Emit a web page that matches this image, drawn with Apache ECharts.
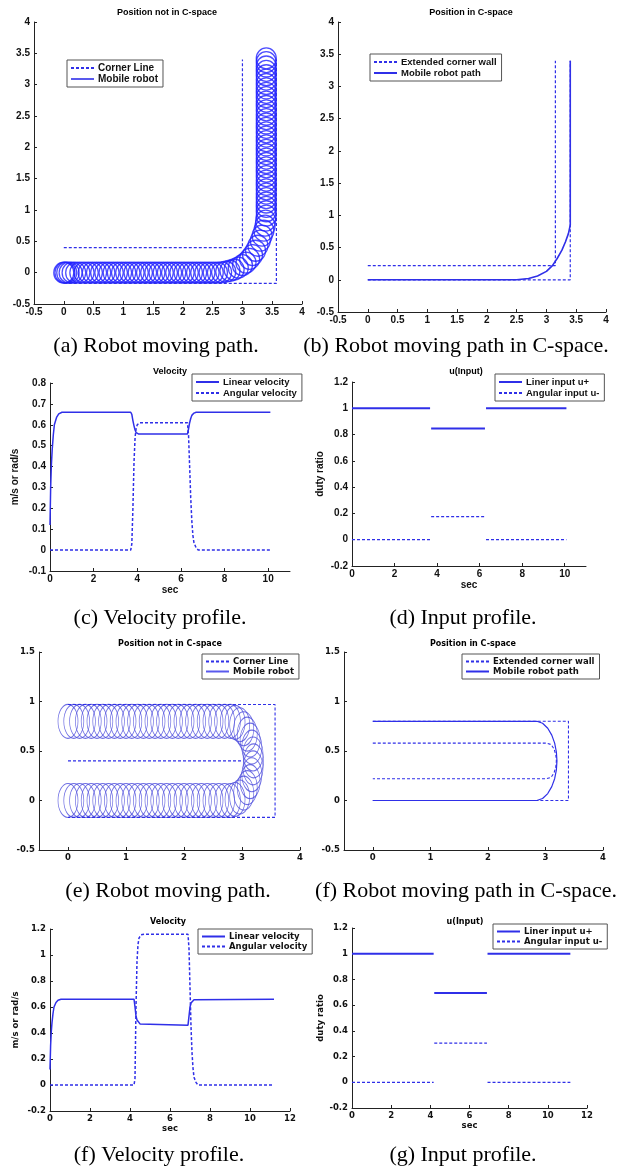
<!DOCTYPE html>
<html>
<head>
<meta charset="utf-8">
<script src="https://cdn.jsdelivr.net/npm/echarts@6/dist/echarts.min.js"></script>
<style>
html, body { margin: 0; padding: 0; background: #fff; }
#chart { width: 622px; height: 1171px; }
</style>
</head>
<body>
<div id="chart"></div>
<script>
/* ===== (a) corner, position not in C-space ===== */
const aInnerX = [0, 3, 3]
const aInnerY = [0.4, 0.4, 3.4]
const aOuterX = [0, 3.57, 3.57]
const aOuterY = [-0.17, -0.17, 3.4]
// robot body circles (centres)
const aRobot = [
    [0, 0], [0.02, 0], [0.05, 0], [0.09, 0], [0.14, 0], [0.2, 0], [0.27, 0], [0.34, 0], [0.41, 0], [0.48, 0],
    [0.55, 0], [0.62, 0], [0.69, 0], [0.76, 0], [0.83, 0], [0.9, 0], [0.97, 0], [1.04, 0], [1.11, 0], [1.18, 0],
    [1.25, 0], [1.32, 0], [1.39, 0], [1.46, 0], [1.53, 0], [1.6, 0], [1.67, 0], [1.74, 0], [1.81, 0], [1.88, 0],
    [1.95, 0], [2.02, 0], [2.09, 0], [2.16, 0], [2.23, 0], [2.3, 0], [2.37, 0], [2.44, 0], [2.51, 0], [2.58, 0],
    [2.65, 0.005], [2.72, 0.015], [2.79, 0.03], [2.86, 0.05], [2.93, 0.08], [3.0, 0.12], [3.06, 0.16], [3.12, 0.22],
    [3.17, 0.28], [3.22, 0.35], [3.26, 0.43], [3.3, 0.51], [3.33, 0.59], [3.36, 0.67], [3.38, 0.75], [3.39, 0.83],
    [3.4, 0.91], [3.4, 0.98], [3.4, 1.05], [3.4, 1.12], [3.4, 1.19], [3.4, 1.26], [3.4, 1.33], [3.4, 1.4],
    [3.4, 1.47], [3.4, 1.54], [3.4, 1.61], [3.4, 1.68], [3.4, 1.75], [3.4, 1.82], [3.4, 1.89], [3.4, 1.96],
    [3.4, 2.03], [3.4, 2.1], [3.4, 2.17], [3.4, 2.24], [3.4, 2.31], [3.4, 2.38], [3.4, 2.45], [3.4, 2.52],
    [3.4, 2.59], [3.4, 2.66], [3.4, 2.73], [3.4, 2.8], [3.4, 2.87], [3.4, 2.94], [3.4, 3.01], [3.4, 3.08],
    [3.4, 3.15], [3.4, 3.22], [3.4, 3.29], [3.4, 3.36], [3.4, 3.42]
]

/* ===== (b) corner, C-space ===== */
const bInnerX = [0, 3.15, 3.15]
const bInnerY = [0.22, 0.22, 3.4]
const bOuterX = [0, 3.4, 3.4]
const bOuterY = [0, 0, 3.4]
const bPathX = [0, 2.5, 2.7, 2.85, 3.0, 3.1, 3.18, 3.26, 3.32, 3.37, 3.4, 3.4]
const bPathY = [0, 0, 0.02, 0.06, 0.13, 0.22, 0.33, 0.46, 0.59, 0.72, 0.85, 3.4]

/* ===== (c) velocity, corner ===== */
const cLinT = [0, 0.03, 0.06, 0.1, 0.15, 0.2, 0.3, 0.4, 0.55, 3.7, 3.75, 3.8, 3.85, 3.9, 3.95, 4.05, 6.3, 6.35, 6.4, 6.45, 6.5, 6.6, 6.7, 10.1]
const cLinV = [0.12, 0.3, 0.4, 0.48, 0.55, 0.6, 0.635, 0.652, 0.66, 0.66, 0.65, 0.62, 0.595, 0.575, 0.562, 0.556, 0.556, 0.58, 0.61, 0.63, 0.645, 0.656, 0.66, 0.66]
const cAngT = [0, 3.7, 3.75, 3.8, 3.85, 3.9, 3.95, 4.0, 4.1, 6.3, 6.35, 6.4, 6.45, 6.5, 6.55, 6.6, 6.7, 6.8, 10.1]
const cAngV = [0, 0, 0.03, 0.2, 0.42, 0.54, 0.585, 0.6, 0.61, 0.61, 0.55, 0.4, 0.25, 0.14, 0.07, 0.035, 0.01, 0, 0]

/* ===== (d) input, corner (step segments) ===== */
const dStart = [0, 3.72, 6.3]
const dEnd = [3.67, 6.25, 10.08]
const dLin = [1, 0.846, 1]
const dAng = [0, 0.175, 0]

/* ===== (e) U-turn, position not in C-space ===== */
const eOuter = [[0, 0.97], [3.57, 0.97], [3.57, -0.17], [0, -0.17]]
const eMid = [[0, 0.4], [3.0, 0.4]]
const eRobot = [
    [0, 0], [0.1, 0], [0.2, 0], [0.3, 0], [0.4, 0], [0.5, 0], [0.6, 0], [0.7, 0], [0.8, 0], [0.9, 0],
    [1.0, 0], [1.1, 0], [1.2, 0], [1.3, 0], [1.4, 0], [1.5, 0], [1.6, 0], [1.7, 0], [1.8, 0], [1.9, 0],
    [2.0, 0], [2.1, 0], [2.2, 0], [2.3, 0], [2.4, 0], [2.5, 0], [2.6, 0], [2.7, 0], [2.8, 0],
    [2.88, 0.01], [2.96, 0.035], [3.03, 0.075], [3.09, 0.13], [3.14, 0.19], [3.17, 0.26], [3.19, 0.33],
    [3.2, 0.4], [3.19, 0.47], [3.17, 0.54], [3.14, 0.61], [3.09, 0.67], [3.03, 0.725], [2.96, 0.765], [2.88, 0.79],
    [2.8, 0.8], [2.7, 0.8], [2.6, 0.8], [2.5, 0.8], [2.4, 0.8], [2.3, 0.8], [2.2, 0.8], [2.1, 0.8], [2.0, 0.8],
    [1.9, 0.8], [1.8, 0.8], [1.7, 0.8], [1.6, 0.8], [1.5, 0.8], [1.4, 0.8], [1.3, 0.8], [1.2, 0.8], [1.1, 0.8],
    [1.0, 0.8], [0.9, 0.8], [0.8, 0.8], [0.7, 0.8], [0.6, 0.8], [0.5, 0.8], [0.4, 0.8], [0.3, 0.8], [0.2, 0.8],
    [0.1, 0.8], [0, 0.8]
]

/* ===== (f) U-turn, C-space ===== */
const fOuter = [[0, 0.8], [3.4, 0.8], [3.4, 0], [0, 0]]
const fInner = [[0, 0.58], [3.02, 0.58], [3.1, 0.565], [3.15, 0.52], [3.18, 0.46], [3.19, 0.4], [3.18, 0.34], [3.15, 0.28], [3.1, 0.235], [3.02, 0.22], [0, 0.22]]
const fPath = [[0, 0], [2.85, 0], [2.95, 0.02], [3.04, 0.07], [3.11, 0.14], [3.16, 0.22], [3.19, 0.31], [3.2, 0.4], [3.19, 0.49], [3.16, 0.58], [3.11, 0.66], [3.04, 0.73], [2.95, 0.78], [2.85, 0.8], [0, 0.8]]

/* ===== (g) velocity, U-turn ===== */
const gLinT = [0, 0.03, 0.06, 0.1, 0.15, 0.2, 0.3, 0.4, 0.55, 4.2, 4.25, 4.3, 4.35, 4.4, 4.5, 4.6, 6.9, 6.95, 7.0, 7.05, 7.1, 7.2, 7.3, 11.2]
const gLinV = [0.12, 0.3, 0.4, 0.48, 0.55, 0.6, 0.635, 0.652, 0.66, 0.66, 0.6, 0.53, 0.5, 0.485, 0.47, 0.462, 0.46, 0.53, 0.6, 0.63, 0.645, 0.655, 0.66, 0.66]
const gAngT = [0, 4.2, 4.25, 4.3, 4.35, 4.4, 4.45, 4.55, 4.7, 6.9, 6.95, 7.0, 7.05, 7.1, 7.15, 7.2, 7.3, 7.4, 11.2]
const gAngV = [0, 0, 0.05, 0.6, 0.95, 1.08, 1.13, 1.155, 1.16, 1.16, 1.05, 0.75, 0.45, 0.25, 0.13, 0.06, 0.02, 0, 0]

/* ===== (h) input, U-turn ===== */
const hStart = [0, 4.2, 6.92]
const hEnd = [4.17, 6.89, 11.15]
const hLin = [1, 0.695, 1]
const hAng = [0, 0.305, 0]

/* ===== tick labels ===== */
const tickPos = [-0.5, 0, 0.5, 1, 1.5, 2, 2.5, 3, 3.5, 4]
const tickTime11 = [0, 2, 4, 6, 8, 10]
const tickUturnX = [0, 1, 2, 3, 4]

/* ===== helpers ===== */
const BLUE = '#2f2fe8'
const BLUE_L = '#4b4bdc'
const SANS = "'Liberation Sans', Arial, sans-serif"
const DEJA = "'DejaVu Sans', sans-serif"
const SERIF = "'Liberation Serif', 'Times New Roman', serif"
const DASH_ICON = 'path://M0,0h3v2h-3zM5,0h3v2h-3zM10,0h3v2h-3zM15,0h3v2h-3zM20,0h3v2h-3z'
const LINE_ICON = 'path://M0,0h23v2h-23z'

const zip = (xs, ys) => xs.map((x, i) => [x, ys[i]])

const grids = [
    { left: 34, top: 22, width: 268, height: 282 },   // a
    { left: 338, top: 22, width: 268, height: 290 },  // b
    { left: 50, top: 383, width: 240, height: 188 },  // c
    { left: 352, top: 382, width: 234, height: 184 }, // d
    { left: 39, top: 652, width: 261, height: 198 },  // e
    { left: 344, top: 652, width: 259, height: 198 }, // f
    { left: 50, top: 929, width: 240, height: 182 },  // g
    { left: 352, top: 928, width: 235, height: 180 }  // h
]

const axis = (gi, dim, o) => ({
    gridIndex: gi,
    type: 'value',
    min: o.min, max: o.max, interval: o.interval,
    axisLine: { show: true, onZero: false, lineStyle: { color: '#222', width: 1 } },
    axisTick: { show: true, inside: true, length: 3, lineStyle: { color: '#222' }, customValues: o.ticks },
    axisLabel: {
        margin: dim === 'x' ? 3 : 4, color: '#111', fontSize: o.fs, fontWeight: 'bold', fontFamily: o.ff,
        customValues: o.ticks
    },
    splitLine: { show: false },
    name: o.name || '',
    nameLocation: 'middle',
    nameGap: o.gap || 0,
    nameRotate: dim === 'y' ? 90 : 0,
    nameTextStyle: { color: '#111', fontSize: o.fs, fontWeight: 'bold', fontFamily: o.ff }
})

const xAxes = [
    axis(0, 'x', { min: -0.5, max: 4, interval: 0.5, fs: 10, ff: SANS }),
    axis(1, 'x', { min: -0.5, max: 4, interval: 0.5, fs: 10, ff: SANS }),
    axis(2, 'x', { min: 0, max: 11, ticks: tickTime11, fs: 10, ff: SANS, name: 'sec', gap: 13 }),
    axis(3, 'x', { min: 0, max: 11, ticks: tickTime11, fs: 10, ff: SANS, name: 'sec', gap: 14 }),
    axis(4, 'x', { min: -0.5, max: 4, ticks: tickUturnX, fs: 8.5, ff: DEJA }),
    axis(5, 'x', { min: -0.5, max: 4, ticks: tickUturnX, fs: 8.5, ff: DEJA }),
    axis(6, 'x', { min: 0, max: 12, interval: 2, fs: 8.5, ff: DEJA, name: 'sec', gap: 13 }),
    axis(7, 'x', { min: 0, max: 12, interval: 2, fs: 8.5, ff: DEJA, name: 'sec', gap: 12 })
]
const yAxes = [
    axis(0, 'y', { min: -0.5, max: 4, interval: 0.5, fs: 10, ff: SANS }),
    axis(1, 'y', { min: -0.5, max: 4, interval: 0.5, fs: 10, ff: SANS }),
    axis(2, 'y', { min: -0.1, max: 0.8, interval: 0.1, fs: 10, ff: SANS, name: 'm/s or rad/s', gap: 30 }),
    axis(3, 'y', { min: -0.2, max: 1.2, interval: 0.2, fs: 10, ff: SANS, name: 'duty ratio', gap: 27 }),
    axis(4, 'y', { min: -0.5, max: 1.5, interval: 0.5, fs: 8.5, ff: DEJA }),
    axis(5, 'y', { min: -0.5, max: 1.5, interval: 0.5, fs: 8.5, ff: DEJA }),
    axis(6, 'y', { min: -0.2, max: 1.2, interval: 0.2, fs: 8.5, ff: DEJA, name: 'm/s or rad/s', gap: 30 }),
    axis(7, 'y', { min: -0.2, max: 1.2, interval: 0.2, fs: 8.5, ff: DEJA, name: 'duty ratio', gap: 27 })
]

const line = (gi, name, data, opt = {}) => ({
    type: 'line', name, xAxisIndex: gi, yAxisIndex: gi, data,
    symbol: 'none', silent: true, animation: false,
    lineStyle: { color: opt.color || BLUE, width: opt.width || 1.4, type: opt.dash ? [3, 2] : 'solid' },
    itemStyle: { color: opt.color || BLUE }
})
const rings = (gi, name, data, size, color, bw) => ({
    type: 'scatter', name, xAxisIndex: gi, yAxisIndex: gi, data,
    symbol: 'circle', symbolSize: size, silent: true, animation: false,
    itemStyle: { color: 'rgba(0,0,0,0)', borderColor: color, borderWidth: bw }
})
const steps = (gi, name, starts, ends, vals, dash) =>
    starts.map((s, i) => line(gi, name, [[s, vals[i]], [ends[i], vals[i]]], { dash, width: dash ? 1.3 : 2 }))

const series = [
    // a
    line(0, 'Corner Line', zip(aInnerX, aInnerY), { dash: true, width: 1.2 }),
    line(0, 'Corner Line', zip(aOuterX, aOuterY), { dash: true, width: 1.2 }),
    rings(0, 'Mobile robot', aRobot, [20, 21], '#1f1fff', 1.3),
    // b
    line(1, 'Extended corner wall', zip(bInnerX, bInnerY), { dash: true, width: 1.2 }),
    line(1, 'Extended corner wall', zip(bOuterX, bOuterY), { dash: true, width: 1.2 }),
    line(1, 'Mobile robot path', zip(bPathX, bPathY), { width: 1.6 }),
    // c
    line(2, 'Linear velocity', zip(cLinT, cLinV), { width: 1.5 }),
    line(2, 'Angular velocity', zip(cAngT, cAngV), { dash: true, width: 1.5 }),
    // d
    ...steps(3, 'Liner input u+', dStart, dEnd, dLin, false),
    ...steps(3, 'Angular input u-', dStart, dEnd, dAng, true),
    // e
    line(4, 'Corner Line', eOuter, { dash: true, width: 1.1 }),
    line(4, 'Corner Line', eMid, { dash: true, width: 1.1 }),
    rings(4, 'Mobile robot', eRobot, [20, 34], BLUE_L, 0.9),
    // f
    line(5, 'Extended corner wall', fOuter, { dash: true, width: 1.1 }),
    line(5, 'Extended corner wall', fInner, { dash: true, width: 1.1 }),
    line(5, 'Mobile robot path', fPath, { width: 1.2 }),
    // g
    line(6, 'Linear velocity', zip(gLinT, gLinV), { width: 1.5 }),
    line(6, 'Angular velocity', zip(gAngT, gAngV), { dash: true, width: 1.5 }),
    // h
    ...steps(7, 'Liner input u+', hStart, hEnd, hLin, false),
    ...steps(7, 'Angular input u-', hStart, hEnd, hAng, true)
]

const legend = (left, top, items, fs, ff) => ({
    left, top, orient: 'vertical',
    backgroundColor: '#fff', borderColor: '#555', borderWidth: 1,
    padding: [3, 5, 3, 4], itemGap: 1, itemWidth: 23, itemHeight: 2,
    selectedMode: false,
    textStyle: { fontSize: fs, fontWeight: 'bold', fontFamily: ff, color: '#111', padding: [0, 0, 0, -1] },
    data: items.map(([name, dash]) => ({
        name, icon: dash ? DASH_ICON : LINE_ICON,
        itemStyle: { color: BLUE, borderWidth: 0 }
    }))
})

const legends = [
    legend(67, 60, [['Corner Line', true], ['Mobile robot', false]], 10, SANS),
    legend(370, 54, [['Extended corner wall', true], ['Mobile robot path', false]], 9.5, SANS),
    legend(192, 374, [['Linear velocity', false], ['Angular velocity', true]], 9.5, SANS),
    legend(495, 374, [['Liner input u+', false], ['Angular input u-', true]], 9.5, SANS),
    legend(202, 654, [['Corner Line', true], ['Mobile robot', false]], 8.5, DEJA),
    legend(462, 654, [['Extended corner wall', true], ['Mobile robot path', false]], 8.5, DEJA),
    legend(198, 929, [['Linear velocity', false], ['Angular velocity', true]], 8.5, DEJA),
    legend(493, 924, [['Liner input u+', false], ['Angular input u-', true]], 8.5, DEJA)
]

const txt = (x, y, text, size, family, weight) => ({
    type: 'text', x, y, silent: true,
    style: {
        text, fill: '#000', fontSize: size, fontFamily: family, fontWeight: weight,
        align: 'center', verticalAlign: 'middle'
    }
})

const graphics = [
    // panel titles
    txt(167, 13, 'Position not in C-space', 9, SANS, 'bold'),
    txt(471, 13, 'Position in C-space', 9, SANS, 'bold'),
    txt(170, 372, 'Velocity', 9, SANS, 'bold'),
    txt(466, 372, 'u(Input)', 9, SANS, 'bold'),
    txt(170, 644, 'Position not in C-space', 8, DEJA, 'bold'),
    txt(473, 644, 'Position in C-space', 8, DEJA, 'bold'),
    txt(168, 922, 'Velocity', 8, DEJA, 'bold'),
    txt(465, 922, 'u(Input)', 8, DEJA, 'bold'),
    // captions
    txt(156, 346, '(a) Robot moving path.', 22, SERIF, 'normal'),
    txt(456, 346, '(b) Robot moving path in C-space.', 22, SERIF, 'normal'),
    txt(160, 618, '(c) Velocity profile.', 22, SERIF, 'normal'),
    txt(463, 618, '(d) Input profile.', 22, SERIF, 'normal'),
    txt(168, 891, '(e) Robot moving path.', 22, SERIF, 'normal'),
    txt(466, 891, '(f) Robot moving path in C-space.', 22, SERIF, 'normal'),
    txt(159, 1155, '(f) Velocity profile.', 22, SERIF, 'normal'),
    txt(463, 1155, '(g) Input profile.', 22, SERIF, 'normal')
]

const chart = echarts.init(document.getElementById('chart'))
chart.setOption({
    animation: false,
    backgroundColor: '#fff',
    grid: grids,
    xAxis: xAxes,
    yAxis: yAxes,
    legend: legends,
    series,
    graphic: graphics
})
</script>
</body>
</html>
